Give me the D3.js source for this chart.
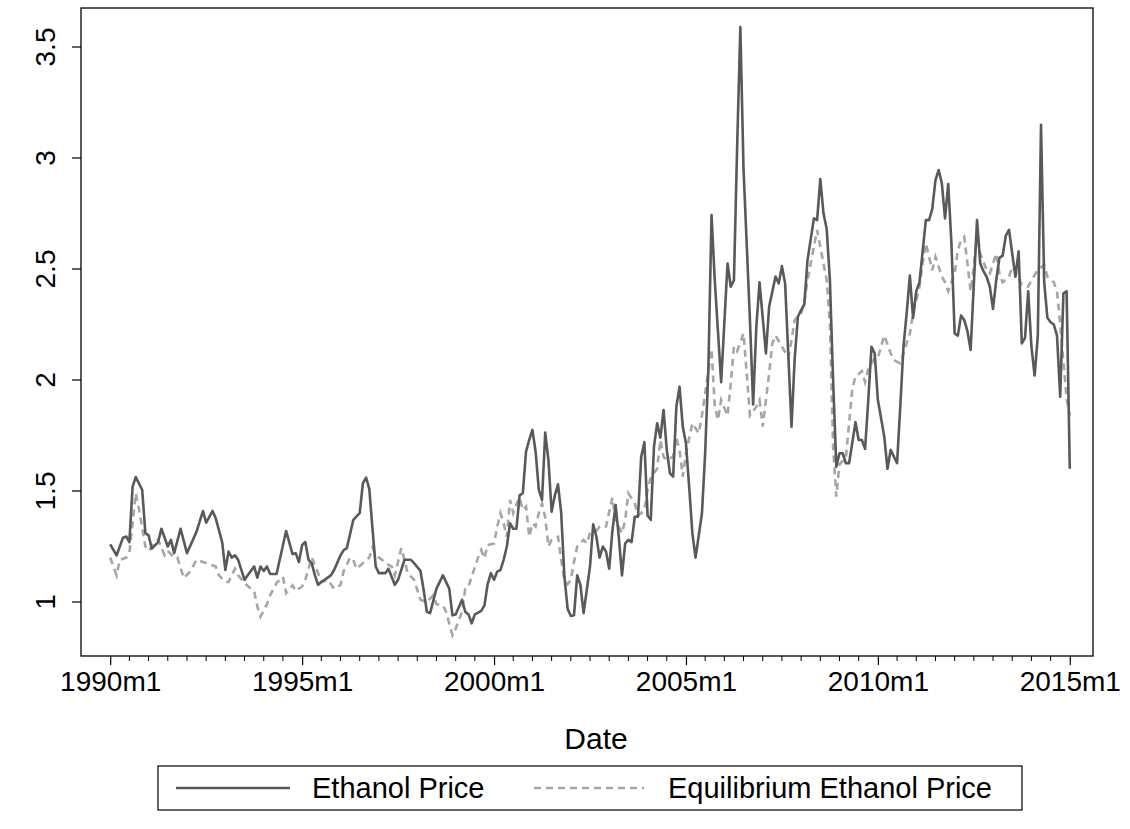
<!DOCTYPE html>
<html>
<head>
<meta charset="utf-8">
<script src="https://cdn.jsdelivr.net/npm/d3@7"></script>
<style>
  html, body { margin: 0; padding: 0; background: #fff; }
  svg { display: block; font-family: "Liberation Sans", Arial, sans-serif; }
</style>
</head>
<body>
<svg id="chart" width="1130" height="829"></svg>
<script>
// Monthly observations: [months since 1990m1, price]
const ethanolPrice = [
  [0,1.26],[2,1.21],[4,1.29],[5,1.295],[6,1.27],[7,1.52],[8,1.563],[10,1.505],[11,1.31],[12,1.30],
  [13,1.24],[15,1.27],[16,1.33],[18,1.25],[19,1.28],[20,1.22],[22,1.33],[24,1.22],[27,1.317],[29,1.41],
  [30,1.357],[32,1.41],[33,1.377],[35,1.27],[36,1.144],[37,1.227],[38,1.20],[39,1.21],[40,1.19],[42,1.10],
  [43,1.12],[45,1.16],[46,1.11],[47,1.16],[48,1.14],[49,1.16],[50,1.126],[52,1.126],[55,1.32],[57,1.216],
  [58,1.22],[59,1.18],[60,1.257],[61,1.27],[62,1.19],[63,1.175],[64,1.12],[65,1.077],[66,1.09],[68,1.11],
  [69,1.12],[70,1.144],[72,1.21],[73,1.234],[74,1.243],[76,1.37],[78,1.40],[79,1.535],[80,1.56],[81,1.51],
  [82,1.33],[83,1.16],[84,1.13],[86,1.13],[87,1.15],[89,1.077],[90,1.10],[92,1.19],[94,1.19],[95,1.175],
  [97,1.14],[98,1.054],[99,0.956],[100,0.95],[102,1.06],[104,1.12],[106,1.06],[107,0.94],[108,0.944],[110,1.01],
  [111,0.956],[112,0.944],[113,0.904],[114,0.944],[116,0.96],[117,0.985],[118,1.08],[119,1.13],[120,1.10],[121,1.137],
  [122,1.144],[123,1.19],[124,1.25],[125,1.354],[126,1.33],[127,1.33],[128,1.48],[129,1.49],[130,1.677],[131,1.73],
  [132,1.775],[133,1.677],[134,1.505],[135,1.46],[136,1.763],[137,1.64],[138,1.407],[139,1.48],[140,1.53],[141,1.40],
  [142,1.114],[143,0.97],[144,0.937],[145,0.94],[146,1.12],[147,1.077],[148,0.95],[150,1.16],[151,1.35],[152,1.294],
  [153,1.20],[154,1.25],[155,1.227],[156,1.15],[157,1.32],[158,1.437],[159,1.294],[160,1.12],[161,1.264],[162,1.28],
  [163,1.27],[164,1.384],[165,1.384],[166,1.654],[167,1.72],[168,1.39],[169,1.37],[170,1.70],[171,1.805],[172,1.74],
  [173,1.865],[174,1.685],[175,1.58],[176,1.565],[177,1.88],[178,1.97],[179,1.79],[180,1.715],[181,1.52],[182,1.31],
  [183,1.20],[185,1.40],[186,1.67],[187,2.05],[188,2.743],[189,2.45],[191,1.99],[193,2.525],[194,2.42],[195,2.45],
  [196,3.05],[197,3.59],[198,2.95],[200,2.27],[201,1.89],[202,2.24],[203,2.44],[205,2.12],[206,2.33],[208,2.466],
  [209,2.435],[210,2.513],[211,2.435],[213,1.79],[214,2.10],[215,2.285],[216,2.315],[217,2.34],[218,2.54],[220,2.728],
  [221,2.72],[222,2.905],[223,2.75],[224,2.68],[225,2.45],[226,2.0],[227,1.61],[228,1.67],[229,1.67],[230,1.625],
  [231,1.625],[233,1.81],[234,1.73],[235,1.73],[236,1.69],[237,1.91],[238,2.15],[239,2.12],[240,1.91],[242,1.745],
  [243,1.60],[244,1.685],[246,1.625],[247,1.88],[248,2.15],[249,2.3],[250,2.47],[251,2.28],[252,2.40],[253,2.44],
  [255,2.72],[256,2.72],[257,2.77],[258,2.90],[259,2.946],[260,2.886],[261,2.728],[262,2.883],[263,2.615],[264,2.21],
  [265,2.20],[266,2.29],[267,2.27],[268,2.22],[269,2.135],[270,2.435],[271,2.72],[272,2.525],[273,2.49],[274,2.465],
  [275,2.42],[276,2.32],[277,2.45],[278,2.55],[279,2.56],[280,2.65],[281,2.676],[282,2.57],[283,2.465],[284,2.58],
  [285,2.165],[286,2.19],[287,2.40],[288,2.15],[289,2.02],[290,2.2],[291,3.15],[292,2.44],[293,2.28],[294,2.26],
  [295,2.25],[296,2.2],[297,1.925],[298,2.39],[299,2.40],[300,1.60]
];

const equilibriumPrice = [
  [0,1.20],[2,1.12],[3,1.19],[5,1.20],[6,1.22],[8,1.49],[9,1.42],[11,1.25],[12,1.23],[14,1.27],
  [15,1.28],[17,1.21],[18,1.23],[20,1.20],[21,1.20],[23,1.108],[25,1.137],[27,1.19],[29,1.18],[31,1.17],
  [33,1.16],[34,1.12],[36,1.09],[37,1.09],[39,1.15],[40,1.12],[42,1.085],[44,1.06],[45,1.05],[46,0.98],
  [47,0.934],[49,0.99],[50,1.03],[52,1.085],[54,1.114],[55,1.04],[57,1.075],[58,1.05],[60,1.07],[61,1.10],
  [63,1.20],[65,1.13],[66,1.09],[68,1.10],[70,1.06],[72,1.077],[73,1.14],[75,1.20],[76,1.19],[77,1.15],
  [79,1.175],[81,1.20],[82,1.246],[83,1.21],[85,1.19],[86,1.175],[88,1.16],[89,1.12],[91,1.243],[92,1.19],
  [93,1.13],[95,1.10],[96,1.054],[97,1.01],[99,1.0],[101,1.03],[102,0.99],[104,0.985],[105,0.956],[107,0.85],
  [108,0.88],[110,0.956],[111,1.06],[112,1.07],[115,1.20],[116,1.234],[117,1.197],[118,1.257],[120,1.264],[121,1.34],
  [122,1.40],[123,1.354],[124,1.294],[125,1.46],[126,1.40],[127,1.44],[128,1.47],[129,1.414],[130,1.43],[131,1.294],
  [132,1.354],[133,1.34],[134,1.40],[135,1.444],[136,1.38],[137,1.25],[138,1.28],[140,1.294],[141,1.19],[142,1.10],
  [143,1.08],[144,1.10],[145,1.18],[146,1.25],[148,1.28],[149,1.264],[150,1.31],[152,1.32],[153,1.34],[155,1.34],
  [156,1.407],[157,1.47],[158,1.37],[160,1.31],[161,1.37],[162,1.49],[164,1.444],[165,1.39],[166,1.40],[167,1.414],
  [168,1.505],[169,1.564],[171,1.60],[172,1.73],[173,1.654],[174,1.64],[176,1.654],[177,1.74],[178,1.685],[179,1.565],
  [180,1.67],[182,1.805],[184,1.76],[185,1.84],[188,2.14],[189,1.887],[190,1.82],[191,1.91],[193,1.84],[194,1.985],
  [195,2.15],[196,2.13],[198,2.21],[199,2.03],[200,1.84],[202,1.88],[203,1.91],[204,1.79],[206,2.03],[207,2.165],
  [208,2.20],[210,2.15],[212,2.10],[213,2.18],[214,2.27],[216,2.30],[217,2.35],[218,2.45],[220,2.60],[221,2.676],
  [222,2.60],[224,2.45],[225,2.25],[226,1.7],[227,1.475],[228,1.62],[230,1.65],[232,1.96],[233,2.015],[235,2.04],
  [236,1.99],[237,2.05],[239,2.10],[240,2.10],[242,2.20],[244,2.12],[245,2.09],[247,2.075],[250,2.21],[251,2.30],
  [252,2.36],[253,2.42],[254,2.525],[255,2.615],[256,2.555],[257,2.495],[258,2.555],[260,2.466],[261,2.44],[262,2.40],
  [264,2.48],[265,2.585],[266,2.63],[267,2.645],[268,2.525],[269,2.40],[270,2.51],[271,2.66],[272,2.57],[274,2.495],
  [275,2.48],[277,2.57],[278,2.48],[279,2.44],[281,2.465],[282,2.51],[283,2.49],[285,2.43],[287,2.42],[288,2.45],
  [290,2.495],[292,2.52],[293,2.465],[295,2.44],[296,2.40],[297,2.25],[298,2.08],[299,1.92],[300,1.84]
];

const xTickMonths = [0, 60, 120, 180, 240, 300];
const xTickLabels = ["1990m1", "1995m1", "2000m1", "2005m1", "2010m1", "2015m1"];
const yTickValues = [1, 1.5, 2, 2.5, 3, 3.5];
const seriesNames = ["Ethanol Price", "Equilibrium Ethanol Price"];

const svg = d3.select("#chart");
const FONT = '"Liberation Sans", Arial, sans-serif';

// plot region box
const frame = { left: 81, right: 1093, top: 8, bottom: 656 };

const x = d3.scaleLinear().domain([0, 300]).range([110.2, 1069.8]);
const y = d3.scaleLinear().domain([1, 3.5]).range([602, 47]);

svg.append("rect")
  .attr("x", frame.left).attr("y", frame.top)
  .attr("width", frame.right - frame.left).attr("height", frame.bottom - frame.top)
  .attr("fill", "none").attr("stroke", "#000").attr("stroke-width", 1.3);

// x axis: labelled ticks every 5 years, minor ticks every 6 months
const xAxis = d3.axisBottom(x)
  .tickValues(xTickMonths)
  .tickSize(9)
  .tickPadding(6)
  .tickFormat((d, i) => xTickLabels[i]);
const gx = svg.append("g").attr("transform", `translate(0,${frame.bottom})`).call(xAxis);
gx.select(".domain").remove();
gx.selectAll("line").attr("stroke", "#000").attr("stroke-width", 1.2);
gx.selectAll("text").attr("font-size", 28).attr("fill", "#000").attr("font-family", FONT);

const minor = d3.range(0, 301, 6).filter(m => m % 60 !== 0);
svg.append("g").selectAll("line").data(minor).join("line")
  .attr("x1", d => x(d)).attr("x2", d => x(d))
  .attr("y1", frame.bottom).attr("y2", frame.bottom + 5)
  .attr("stroke", "#000").attr("stroke-width", 1);

// y axis with rotated labels
const yAxis = d3.axisLeft(y).tickValues(yTickValues).tickSize(9).tickFormat(d3.format("~g"));
const gy = svg.append("g").attr("transform", `translate(${frame.left},0)`).call(yAxis);
gy.select(".domain").remove();
gy.selectAll(".tick").attr("transform", null);
gy.selectAll(".tick line").attr("y1", d => y(d)).attr("y2", d => y(d))
  .attr("stroke", "#000").attr("stroke-width", 1.2);
gy.selectAll(".tick text")
  .attr("font-size", 28).attr("fill", "#000").attr("font-family", FONT)
  .attr("x", 0).attr("y", 0).attr("dy", null)
  .attr("text-anchor", "middle")
  .attr("transform", d => `translate(${55 - frame.left},${y(d)}) rotate(-90)`);

// series
const line = d3.line().x(d => x(d[0])).y(d => y(d[1]));

svg.append("path").datum(equilibriumPrice)
  .attr("d", line).attr("fill", "none")
  .attr("stroke", "#a6a6a6").attr("stroke-width", 2.6)
  .attr("stroke-dasharray", "7,5");

svg.append("path").datum(ethanolPrice)
  .attr("d", line).attr("fill", "none")
  .attr("stroke", "#595959").attr("stroke-width", 2.6)
  .attr("stroke-linejoin", "round");

// axis title
svg.append("text").attr("x", (frame.left + frame.right) / 2 + 9).attr("y", 749)
  .attr("text-anchor", "middle").attr("font-size", 30).attr("font-family", FONT).text("Date");

// legend
const lg = svg.append("g");
lg.append("rect").attr("x", 158).attr("y", 766).attr("width", 864).attr("height", 44)
  .attr("fill", "#fff").attr("stroke", "#000").attr("stroke-width", 1.2);
lg.append("line").attr("x1", 176).attr("x2", 290).attr("y1", 788).attr("y2", 788)
  .attr("stroke", "#595959").attr("stroke-width", 2.6);
lg.append("text").attr("x", 312).attr("y", 798).attr("font-size", 29).attr("font-family", FONT)
  .text(seriesNames[0]);
lg.append("line").attr("x1", 534).attr("x2", 644).attr("y1", 788).attr("y2", 788)
  .attr("stroke", "#a6a6a6").attr("stroke-width", 2.6).attr("stroke-dasharray", "7,5");
lg.append("text").attr("x", 668).attr("y", 798).attr("font-size", 29).attr("font-family", FONT)
  .text(seriesNames[1]);
</script>
</body>
</html>
